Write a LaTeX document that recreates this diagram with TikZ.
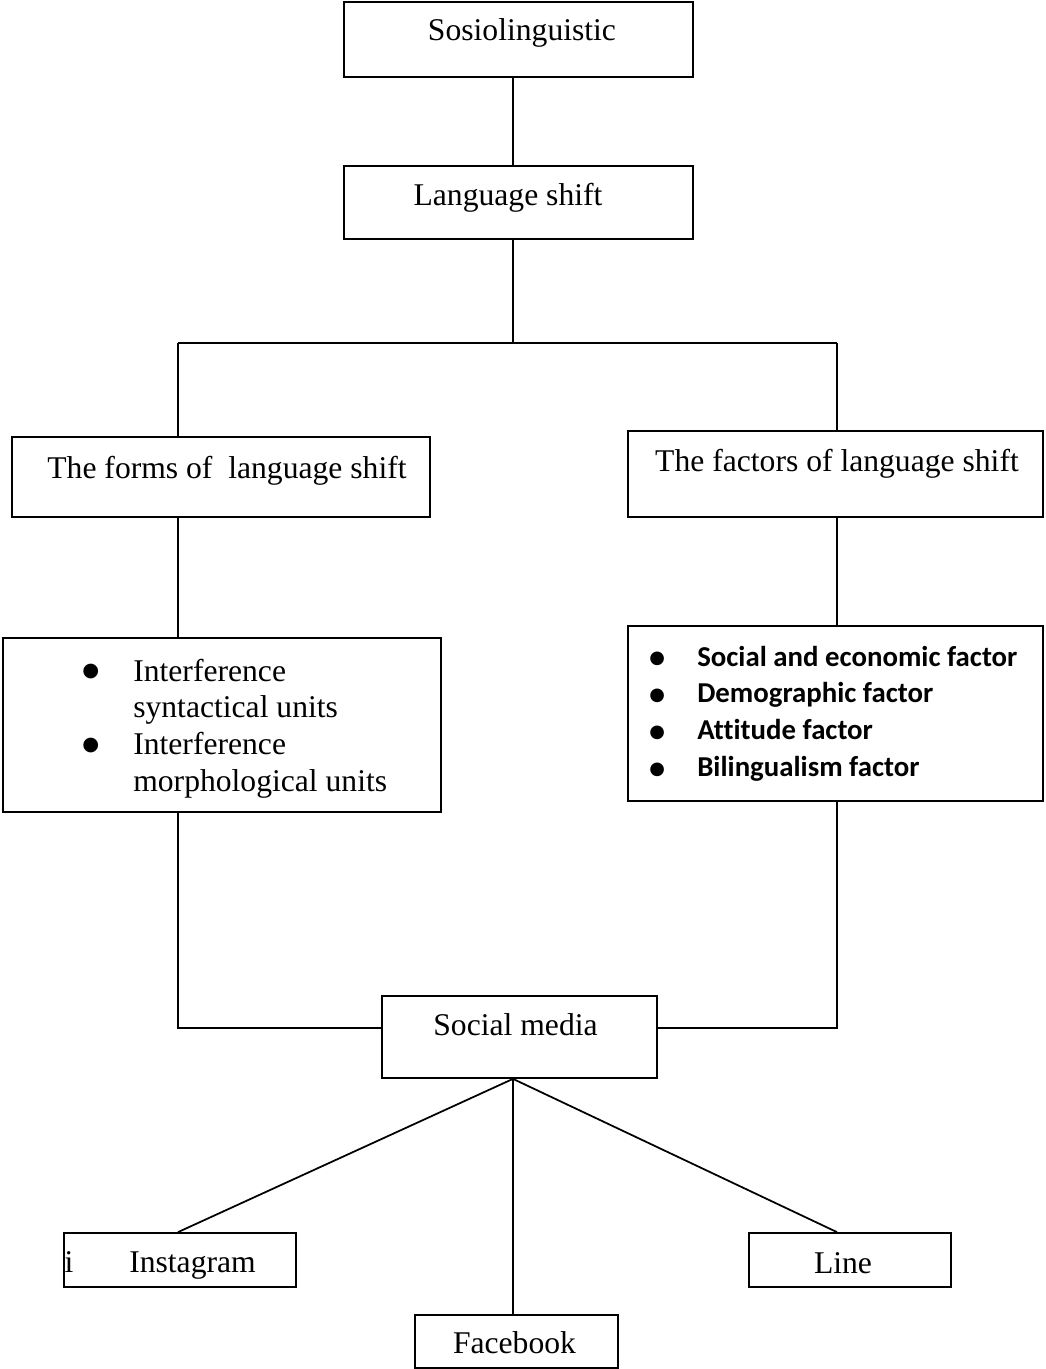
\documentclass[tikz,border=0pt]{standalone}
\usepackage{fontspec}
\setmainfont{Liberation Serif}
\newfontfamily\listfont[Ligatures=NoCommon]{Carlito}
\newfontfamily\dotfont{DejaVu Sans}
\newcommand{\formsdot}{\raisebox{2.5pt}{\dotfont\fontsize{11}{12}\selectfont ●}}
\newcommand{\factordot}{\raisebox{1.5pt}{\dotfont\fontsize{10.2}{12}\selectfont ●}}
\usetikzlibrary{positioning}

\begin{document}
\begin{tikzpicture}[x=0.02cm, y=-0.02cm,
		box/.style={draw, line width=1pt, inner sep=0pt},
		txt/.style={anchor=base, inner sep=0pt, font=\fontsize{18}{21}\selectfont},
		list/.style={anchor=base west, inner sep=0pt, font=\fontsize{18}{21}\selectfont},
		link/.style={line width=1pt}]
		\useasboundingbox (0,0) rectangle (1045,1369);
		
		\node[box, minimum width=6.98cm, minimum height=1.5cm] at (518.5,39.5) (sosio) {};
		\node[box, minimum width=6.98cm, minimum height=1.46cm] at (518.5,202.5) (langshift) {};
		\node[box, minimum width=8.36cm, minimum height=1.6cm] at (221,477) (forms) {};
		\node[box, minimum width=8.3cm, minimum height=1.72cm] at (835.5,474) (factors) {};
		\node[box, minimum width=8.76cm, minimum height=3.48cm] at (222,725) (interf) {};
		\node[box, minimum width=8.3cm, minimum height=3.5cm] at (835.5,713.5) (factorlist) {};
		\node[box, minimum width=5.5cm, minimum height=1.64cm] at (519.5,1037) (smedia) {};
		\node[box, minimum width=4.64cm, minimum height=1.08cm] at (180,1260) (insta) {};
		\node[box, minimum width=4.06cm, minimum height=1.06cm] at (516.5,1341.5) (fb) {};
		\node[box, minimum width=4.04cm, minimum height=1.08cm] at (850,1260) (line) {};
		
		\node[txt] at (522,40) (sosiotxt) {Sosiolinguistic};
		\node[txt] at (508,205) (langshifttxt) {Language shift};
		\node[txt] at (227,478) (formstxt) {The forms of~ language shift};
		\node[txt] at (837,471) (factorstxt) {The factors of language shift};
		\node[txt] at (515.5,1035) (smediatxt) {Social media};
		\node[txt] at (69,1272) (instai) {i};
		\node[txt] at (192.5,1272) (instatxt) {Instagram};
		\node[txt] at (514.5,1353) (fbtxt) {Facebook};
		\node[txt] at (843,1273) (linetxt) {Line};
		
		\node[list] at (82,681) (interftxt) {%
			\begin{tabular}[t]{@{}p{29pt}@{}l@{}}
				\formsdot & Interference\\
				& syntactical units\\
				\formsdot & Interference\\
				& morphological units
		\end{tabular}};
		\node[list] at (649,666) (factorlisttxt) {%
			\begin{tabular}[t]{@{}p{27.3pt}@{}l@{}}
				\factordot & \listfont\bfseries\fontsize{16.4}{21}\selectfont Social and economic factor\\
				\factordot & \listfont\bfseries\fontsize{16.4}{21}\selectfont Demographic factor\\
				\factordot & \listfont\bfseries\fontsize{16.4}{21}\selectfont Attitude factor\\
				\factordot & \listfont\bfseries\fontsize{16.4}{21}\selectfont Bilingualism factor
		\end{tabular}};
		
		\coordinate (trunk) at (513,343);
		\coordinate (lcorner) at (178,343);
		\coordinate (rcorner) at (837,343);
		\coordinate (lfoot) at (178,1028);
		\coordinate (rfoot) at (837,1028);
		
		\draw[link] (sosio.south -| trunk) -- (langshift.north -| trunk);
		\draw[link] (langshift.south -| trunk) -- (trunk);
		\draw[link] (lcorner) -- (rcorner);
		\draw[link] (lcorner) -- (forms.north -| lcorner);
		\draw[link] (rcorner) -- (factors.north -| rcorner);
		
		\draw[link] (forms.south -| lcorner) -- (interf.north -| lcorner);
		\draw[link] (factors.south -| rcorner) -- (factorlist.north -| rcorner);
		
		\draw[link] (interf.south -| lfoot) -- (lfoot) -- (smedia.west |- lfoot);
		\draw[link] (factorlist.south -| rfoot) -- (rfoot) -- (smedia.east |- rfoot);
		
		\draw[link] (smedia.south -| trunk) -- (insta.north -| lcorner);
		\draw[link] (smedia.south -| trunk) -- (fb.north -| trunk);
		\draw[link] (smedia.south -| trunk) -- (line.north -| rcorner);
\end{tikzpicture}
\end{document}
